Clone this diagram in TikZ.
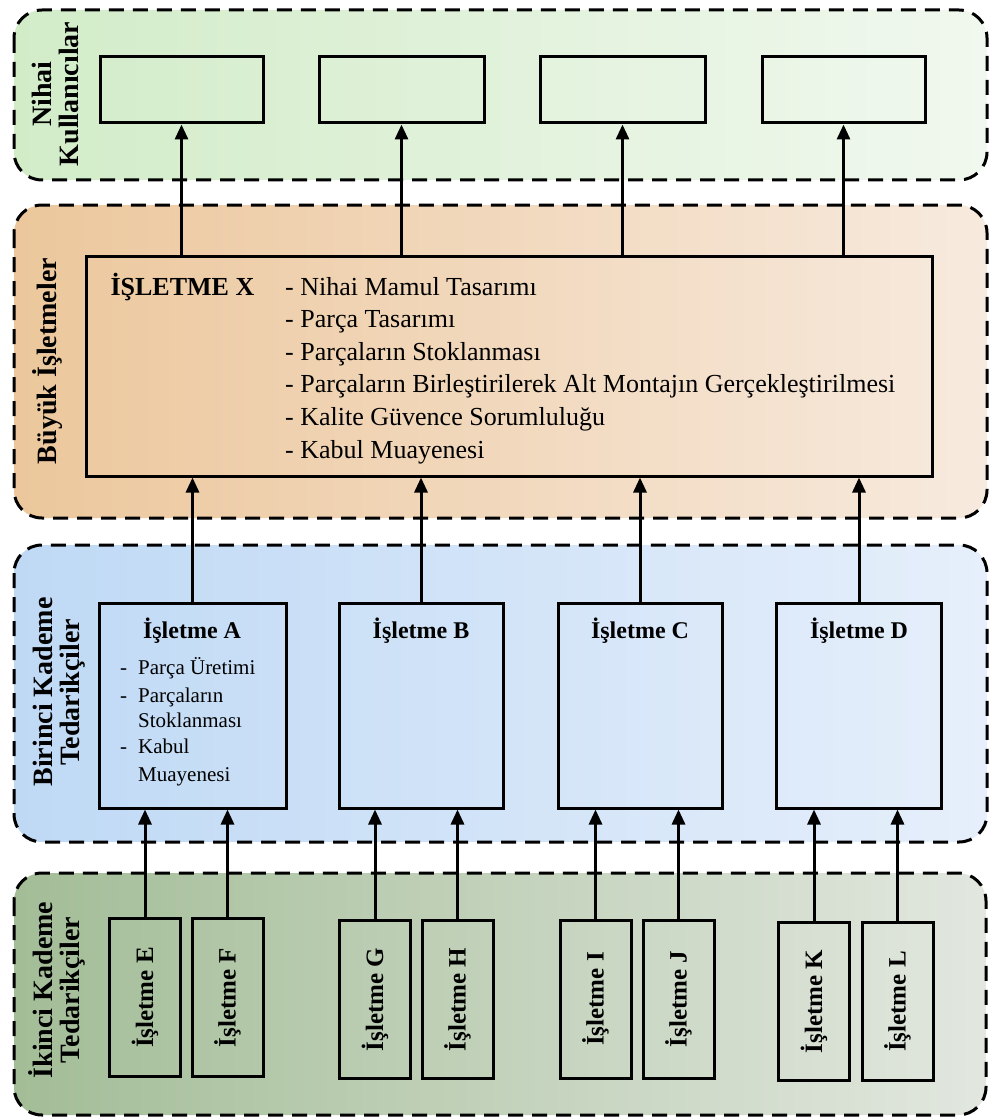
\documentclass[tikz,border=0pt]{standalone}
\usepackage{fontspec}
\setmainfont{Liberation Serif}
\usetikzlibrary{arrows.meta}

\definecolor{nihaiL}{RGB}{210,236,200}
\definecolor{nihaiR}{RGB}{241,248,239}
\definecolor{buyukL}{RGB}{236,199,156}
\definecolor{buyukR}{RGB}{247,234,222}
\definecolor{birinciL}{RGB}{191,217,245}
\definecolor{birinciR}{RGB}{230,239,251}
\definecolor{ikinciL}{RGB}{163,189,151}
\definecolor{ikinciR}{RGB}{226,231,223}

\tikzset{
  panel/.style={line width=3pt, dash pattern=on 15pt off 9pt, rounded corners=28pt},
  box/.style={draw, line width=3pt, inner sep=0pt},
  arr/.style={line width=3pt, -{Triangle[length=15pt,width=13pt]}},
  tierlabel/.style={rotate=90, align=center, font=\bfseries\fontsize{28}{27}\selectfont},
  titletext/.style={anchor=base, font=\bfseries\fontsize{24}{27}\selectfont},
}

\begin{document}
\begin{tikzpicture}[x=1pt,y=-1pt]
\useasboundingbox (0,0) rectangle (989,1118);

% tier panels
\draw[panel, left color=nihaiL, right color=nihaiR] (14,10) rectangle (987,180);
\draw[panel, left color=buyukL, right color=buyukR] (14,205) rectangle (987,518);
\draw[panel, left color=birinciL, right color=birinciR] (14,545) rectangle (987,842);
\draw[panel, left color=ikinciL, right color=ikinciR] (14,873) rectangle (986,1115);

% tier labels
\node[tierlabel] (lnihai) at (55,94) {Nihai\\Kullanıcılar};
\node[tierlabel] (lbuyuk) at (48,361) {Büyük İşletmeler};
\node[tierlabel] (lbirinci) at (59,692) {Birinci Kademe\\Tedarikçiler};
\node[tierlabel] (likinci) at (57,990) {İkinci Kademe\\Tedarikçiler};

% end users
\node[box, minimum width=163pt, minimum height=66pt] (u1) at (181.5,90) {};
\node[box, minimum width=165pt, minimum height=66pt] (u2) at (401.5,90) {};
\node[box, minimum width=165pt, minimum height=66pt] (u3) at (622.5,90) {};
\node[box, minimum width=163pt, minimum height=66pt] (u4) at (843.5,90) {};

% large firm
\node[box, minimum width=846pt, minimum height=220pt] (X) at (509,366) {};
\node[anchor=base west, font=\bfseries\fontsize{26}{32}\selectfont] (xname) at (107,295) {İŞLETME X};
\foreach \t [count=\i] in {Nihai Mamul Tasarımı, Parça Tasarımı, Parçaların Stoklanması,
  Parçaların Birleştirilerek Alt Montajın Gerçekleştirilmesi,
  Kalite Güvence Sorumluluğu, Kabul Muayenesi}
  \node[anchor=base west, inner sep=0pt, font=\fontsize{26}{32}\selectfont] (xl\i) at (285,{295+32.6*(\i-1)}) {- \t};

% first tier suppliers
\node[box, minimum width=187pt, minimum height=205pt] (A) at (192.5,705.5) {};
\node[box, minimum width=164pt, minimum height=205pt] (B) at (421,705.5) {};
\node[box, minimum width=164pt, minimum height=205pt] (C) at (640,705.5) {};
\node[box, minimum width=165pt, minimum height=205pt] (D) at (859,705.5) {};
\node[titletext] (ta) at (192,638) {İşletme A};
\node[titletext] (tb) at (421,638) {İşletme B};
\node[titletext] (tc) at (640,638) {İşletme C};
\node[titletext] (td) at (859,638) {İşletme D};

% duties of İşletme A
\tikzset{aline/.style={anchor=base west, inner sep=0pt, font=\fontsize{21}{26}\selectfont}}
\node[aline] (ad1) at (120,674) {-};
\node[aline] (al1) at (138,674) {Parça Üretimi};
\node[aline] (ad2) at (120,702) {-};
\node[aline] (al2) at (138,702) {Parçaların};
\node[aline] (al3) at (138,727) {Stoklanması};
\node[aline] (ad4) at (120,753) {-};
\node[aline] (al4) at (138,753) {Kabul};
\node[aline] (al5) at (138,781) {Muayenesi};

% second tier suppliers
\foreach \n/\cx/\cy in {E/145/997.5, F/227.5/997.5, G/375/999.5, H/457.5/999.5,
                        I/595.5/999, J/678.5/999, K/814/1001.5, L/897.5/1001.5}
  \node[box, minimum width=71pt, minimum height=158pt] (\n) at (\cx,\cy)
    {\rotatebox{90}{\bfseries\fontsize{25}{28}\selectfont İşletme \n}};

% flows: second tier -> first tier
\foreach \s/\t in {E/A, F/A, G/B, H/B, I/C, J/C, K/D, L/D}
  \draw[arr] (\s.north) -- (\s.north |- \t.south);

% flows: first tier -> large firm
\foreach \s in {A, B, C, D}
  \draw[arr] (\s.north) -- (\s.north |- X.south);

% flows: large firm -> end users
\foreach \u in {u1, u2, u3, u4}
  \draw[arr] (X.north -| \u.south) -- (\u.south);
\end{tikzpicture}
\end{document}
